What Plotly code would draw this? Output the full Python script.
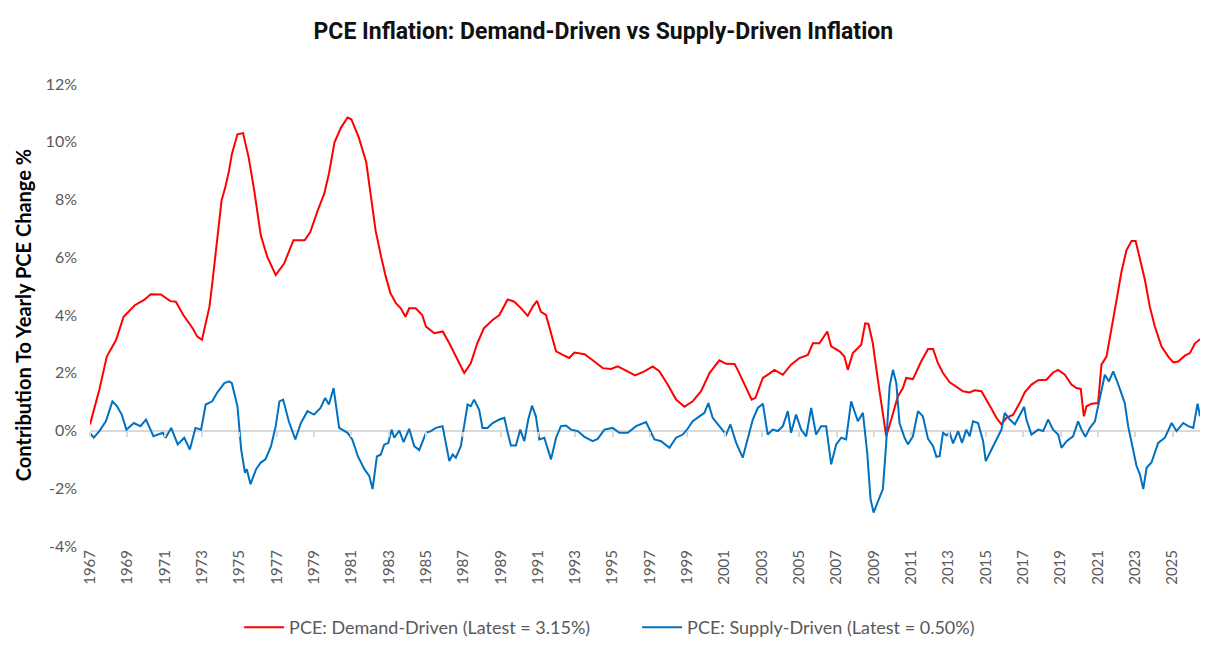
import plotly.graph_objects as go

# Demand-driven contribution (red), % points
demand_years = [
    1967.0, 1967.5, 1967.9, 1968.4, 1968.8, 1969.4, 1969.9, 1970.25, 1970.8, 1971.3,
    1971.6, 1972.0, 1972.5, 1972.75, 1973.0, 1973.4, 1973.55, 1973.8, 1974.05, 1974.25,
    1974.45, 1974.6, 1974.9, 1975.2, 1975.5, 1975.8, 1976.15, 1976.5, 1976.95, 1977.4,
    1977.9, 1978.5, 1978.8, 1979.2, 1979.55, 1979.8, 1980.1, 1980.45, 1980.8, 1981.0,
    1981.4, 1981.8, 1982.05, 1982.3, 1982.6, 1982.85, 1983.1, 1983.4, 1983.65, 1983.9,
    1984.1, 1984.45, 1984.8, 1985.0, 1985.45, 1985.9, 1986.25, 1986.6, 1987.05, 1987.4,
    1987.75, 1988.1, 1988.57, 1988.93, 1989.38, 1989.73, 1990.1, 1990.45, 1990.72, 1990.95,
    1991.16, 1991.43, 1991.7, 1991.97, 1992.33, 1992.68, 1992.95, 1993.5, 1994.02, 1994.47,
    1994.92, 1995.27, 1995.8, 1996.2, 1996.7, 1997.15, 1997.5, 1997.95, 1998.4, 1998.85,
    1999.29, 1999.74, 2000.19, 2000.72, 2001.08, 2001.53, 2001.7, 2002.06, 2002.45, 2002.65,
    2003.05, 2003.4, 2003.67, 2004.12, 2004.56, 2005.01, 2005.46, 2005.73, 2006.08, 2006.5,
    2006.71, 2007.16, 2007.42, 2007.6, 2007.87, 2008.32, 2008.53, 2008.71, 2008.94, 2009.21,
    2009.43, 2009.66, 2009.93, 2010.28, 2010.55, 2010.73, 2011.09, 2011.53, 2011.9, 2012.17,
    2012.43, 2012.7, 2013.06, 2013.42, 2013.78, 2014.13, 2014.4, 2014.76, 2015.03, 2015.3,
    2015.56, 2015.83, 2016.1, 2016.46, 2016.81, 2017.08, 2017.44, 2017.8, 2018.24, 2018.6,
    2018.87, 2019.23, 2019.58, 2019.85, 2020.08, 2020.25, 2020.39, 2020.66, 2021.01, 2021.19,
    2021.46, 2021.73, 2022.0, 2022.26, 2022.53, 2022.8, 2023.02, 2023.25, 2023.52, 2023.78,
    2024.05, 2024.41, 2024.77, 2025.04, 2025.3, 2025.66, 2025.93, 2026.2, 2026.47,
]
demand_vals = [
    0.21, 1.41, 2.56, 3.14, 3.94, 4.34, 4.52, 4.72, 4.71, 4.48,
    4.46, 4.0, 3.54, 3.25, 3.14, 4.29, 5.09, 6.47, 7.97, 8.43,
    9.0, 9.57, 10.26, 10.3, 9.46, 8.31, 6.76, 6.01, 5.38, 5.78,
    6.59, 6.59, 6.87, 7.62, 8.2, 8.89, 9.98, 10.49, 10.84, 10.78,
    10.15, 9.29, 8.1, 6.93, 6.01, 5.32, 4.75, 4.4, 4.23, 3.94,
    4.23, 4.23, 4.0, 3.6, 3.37, 3.43, 3.02, 2.56, 1.99, 2.33,
    3.02, 3.54, 3.83, 4.0, 4.54, 4.46, 4.23, 3.97, 4.29, 4.49,
    4.11, 4.0, 3.37, 2.74, 2.62, 2.51, 2.7, 2.64, 2.39, 2.16,
    2.13, 2.22, 2.05, 1.91, 2.05, 2.22, 2.05, 1.59, 1.07, 0.82,
    1.01, 1.36, 1.99, 2.43, 2.31, 2.3, 2.1, 1.59, 1.07, 1.13,
    1.82, 1.97, 2.1, 1.93, 2.28, 2.51, 2.62, 3.02, 3.02, 3.43,
    2.91, 2.74, 2.56, 2.1, 2.68, 2.97, 3.71, 3.69, 3.02, 1.76,
    0.72, -0.2, 0.38, 1.18, 1.47, 1.82, 1.78, 2.39, 2.82, 2.82,
    2.33, 1.99, 1.67, 1.53, 1.36, 1.32, 1.39, 1.36, 1.07, 0.75,
    0.44, 0.21, 0.44, 0.55, 0.95, 1.32, 1.59, 1.74, 1.76, 2.01,
    2.1, 1.93, 1.59, 1.47, 1.44, 0.49, 0.84, 0.93, 0.95, 2.28,
    2.56, 3.48, 4.52, 5.49, 6.24, 6.56, 6.56, 5.95, 5.21, 4.29,
    3.6, 2.91, 2.56, 2.36, 2.39, 2.59, 2.68, 3.02, 3.16,
]

# Supply-driven contribution (blue), % points
supply_years = [
    1967.0, 1967.2, 1967.5, 1967.85, 1968.2, 1968.45, 1968.7, 1968.95, 1969.35, 1969.7,
    1970.0, 1970.4, 1970.9, 1971.05, 1971.35, 1971.7, 1972.05, 1972.35, 1972.65, 1972.95,
    1973.2, 1973.55, 1973.8, 1974.2, 1974.45, 1974.6, 1974.9, 1975.1, 1975.3, 1975.4,
    1975.6, 1975.9, 1976.15, 1976.4, 1976.7, 1976.95, 1977.15, 1977.35, 1977.65, 1978.0,
    1978.3, 1978.65, 1979.0, 1979.35, 1979.6, 1979.8, 1980.05, 1980.35, 1980.8, 1981.05,
    1981.35, 1981.7, 1981.96, 1982.14, 1982.37, 1982.58, 1982.76, 1982.98, 1983.16, 1983.3,
    1983.57, 1983.8, 1984.1, 1984.37, 1984.64, 1985.0, 1985.26, 1985.53, 1985.89, 1986.07,
    1986.25, 1986.43, 1986.6, 1986.87, 1987.05, 1987.23, 1987.4, 1987.58, 1987.85, 1988.03,
    1988.3, 1988.57, 1988.93, 1989.2, 1989.38, 1989.55, 1989.82, 1990.05, 1990.27, 1990.48,
    1990.68, 1990.89, 1991.07, 1991.34, 1991.7, 1991.97, 1992.23, 1992.5, 1992.77, 1993.13,
    1993.49, 1993.93, 1994.2, 1994.56, 1995.0, 1995.36, 1995.81, 1996.26, 1996.79, 1996.97,
    1997.24, 1997.6, 1998.04, 1998.4, 1998.76, 1999.02, 1999.29, 1999.65, 1999.92, 2000.13,
    2000.36, 2000.72, 2001.08, 2001.31, 2001.62, 2001.97, 2002.24, 2002.51, 2002.78, 2003.05,
    2003.31, 2003.58, 2003.85, 2004.12, 2004.39, 2004.56, 2004.83, 2005.1, 2005.37, 2005.64,
    2005.9, 2006.17, 2006.44, 2006.71, 2006.98, 2007.25, 2007.51, 2007.78, 2008.14, 2008.41,
    2008.64, 2008.82, 2008.98, 2009.21, 2009.48, 2009.66, 2009.84, 2010.02, 2010.2, 2010.37,
    2010.64, 2010.82, 2011.09, 2011.36, 2011.62, 2011.9, 2012.17, 2012.35, 2012.52, 2012.7,
    2012.88, 2013.06, 2013.24, 2013.51, 2013.72, 2013.95, 2014.13, 2014.31, 2014.58, 2014.85,
    2014.99, 2015.3, 2015.56, 2015.83, 2016.01, 2016.28, 2016.55, 2016.81, 2017.05, 2017.17,
    2017.44, 2017.8, 2018.07, 2018.33, 2018.6, 2018.87, 2019.05, 2019.32, 2019.67, 2019.94,
    2020.12, 2020.33, 2020.57, 2020.84, 2021.1, 2021.37, 2021.59, 2021.82, 2022.05, 2022.26,
    2022.44, 2022.62, 2022.89, 2023.07, 2023.25, 2023.43, 2023.61, 2023.87, 2024.23, 2024.59,
    2024.95, 2025.21, 2025.57, 2025.84, 2026.11, 2026.34, 2026.47,
]
supply_vals = [
    -0.08, -0.25, -0.02, 0.32, 1.01, 0.84, 0.55, 0.03, 0.26, 0.15,
    0.38, -0.2, -0.08, -0.25, 0.09, -0.48, -0.25, -0.66, 0.09, 0.03,
    0.9, 1.01, 1.3, 1.64, 1.7, 1.64, 0.84, -0.66, -1.46, -1.34,
    -1.86, -1.34, -1.11, -1.0, -0.54, 0.15, 1.01, 1.07, 0.32, -0.31,
    0.26, 0.67, 0.55, 0.78, 1.13, 0.9, 1.47, 0.09, -0.08, -0.31,
    -0.89, -1.34, -1.57, -2.03, -0.9, -0.83, -0.49, -0.43, 0.03, -0.25,
    0.0, -0.4, 0.06, -0.54, -0.68, -0.08, -0.02, 0.09, 0.15, -0.43,
    -1.06, -0.83, -0.94, -0.54, 0.15, 0.9, 0.84, 1.07, 0.72, 0.09,
    0.09, 0.26, 0.38, 0.44, -0.08, -0.52, -0.52, 0.03, -0.37, 0.38,
    0.86, 0.49, -0.31, -0.25, -1.0, -0.25, 0.15, 0.17, 0.03, -0.02,
    -0.22, -0.37, -0.29, 0.03, 0.09, -0.08, -0.08, 0.15, 0.29, 0.03,
    -0.31, -0.37, -0.6, -0.25, -0.14, 0.06, 0.32, 0.49, 0.61, 0.95,
    0.44, 0.15, -0.14, 0.21, -0.43, -0.94, -0.25, 0.38, 0.78, 0.93,
    -0.14, 0.03, -0.02, 0.15, 0.67, -0.08, 0.55, 0.03, -0.2, 0.78,
    -0.14, 0.15, 0.15, -1.17, -0.48, -0.25, -0.31, 1.01, 0.32, 0.61,
    -0.77, -2.38, -2.84, -2.44, -2.03, -0.43, 1.53, 2.1, 1.64, 0.26,
    -0.25, -0.48, -0.2, 0.67, 0.49, -0.29, -0.54, -0.91, -0.89, -0.08,
    -0.17, -0.08, -0.45, -0.02, -0.43, 0.03, -0.2, 0.32, 0.26, -0.37,
    -1.06, -0.66, -0.31, 0.03, 0.61, 0.38, 0.21, 0.55, 0.82, 0.38,
    -0.14, 0.03, -0.02, 0.38, 0.03, -0.14, -0.6, -0.37, -0.2, 0.32,
    0.03, -0.22, 0.09, 0.32, 1.07, 1.93, 1.7, 2.05, 1.67, 1.3,
    0.95, 0.15, -0.66, -1.23, -1.52, -2.03, -1.29, -1.11, -0.43, -0.25,
    0.26, -0.02, 0.26, 0.15, 0.09, 0.93, 0.49,
]

year_ticks = list(range(1967, 2026, 2))
year_labels = [str(y) for y in year_ticks]
pct_ticks = [-4, -2, 0, 2, 4, 6, 8, 10, 12]
pct_labels = [f"{v}%" for v in pct_ticks]

demand_name = "PCE: Demand-Driven (Latest = 3.15%)"
supply_name = "PCE: Supply-Driven (Latest = 0.50%)"

x_range = [1967.0, 2026.47]

fig = go.Figure()
fig.add_trace(go.Scatter(
    x=demand_years, y=demand_vals, mode="lines", name=demand_name,
    line=dict(color="#FF0000", width=2),
))
# supply series sits on an overlaying axis so that axis can carry the tick marks at 0%
fig.add_trace(go.Scatter(
    x=supply_years, y=supply_vals, mode="lines", name=supply_name,
    line=dict(color="#0070C0", width=2), xaxis="x2",
))

# the page body has an 8px margin, so the figure is 8px smaller each way
fig.update_layout(
    width=1210,
    height=644,
    margin=dict(l=82, r=18, t=76, b=106),
    paper_bgcolor="white",
    plot_bgcolor="white",
    title=dict(
        text="<b>PCE Inflation: Demand-Driven vs Supply-Driven Inflation</b>",
        x=0.492, xanchor="center", xref="container",
        y=0.965, yanchor="middle",
        font=dict(family="Roboto", size=23, color="#111111"),
    ),
    xaxis=dict(
        range=x_range,
        tickvals=year_ticks,
        ticktext=year_labels,
        tickangle=-90,
        tickfont=dict(family="Lato", size=15, color="#595959"),
        showgrid=False,
        zeroline=False,
        showline=False,
        ticks="",
    ),
    xaxis2=dict(
        matches="x",
        overlaying="x",
        anchor="free",
        position=0.25,
        tickvals=year_ticks,
        showticklabels=False,
        ticks="outside",
        ticklen=5,
        tickcolor="#D9D9D9",
        tickwidth=1.5,
        showgrid=False,
        zeroline=False,
        showline=False,
    ),
    yaxis=dict(
        range=[-4, 12],
        tickvals=pct_ticks,
        ticktext=pct_labels,
        tickfont=dict(family="Lato", size=16, color="#595959"),
        ticklabelstandoff=12,
        showgrid=False,
        zeroline=True,
        zerolinecolor="#D9D9D9",
        zerolinewidth=2,
        showline=False,
        title=dict(
            text="<b>Contribution To Yearly PCE Change %</b>",
            font=dict(family="Lato", size=20, color="black"),
            standoff=8,
        ),
    ),
    showlegend=True,
    legend=dict(
        orientation="h",
        xref="container", yref="container",
        x=0.191, xanchor="left",
        y=0.038, yanchor="middle",
        font=dict(family="Lato", size=18, color="#595959"),
        itemwidth=40,
        entrywidth=343,
    ),
    hovermode="x unified",
)

fig.write_html("out.html")
